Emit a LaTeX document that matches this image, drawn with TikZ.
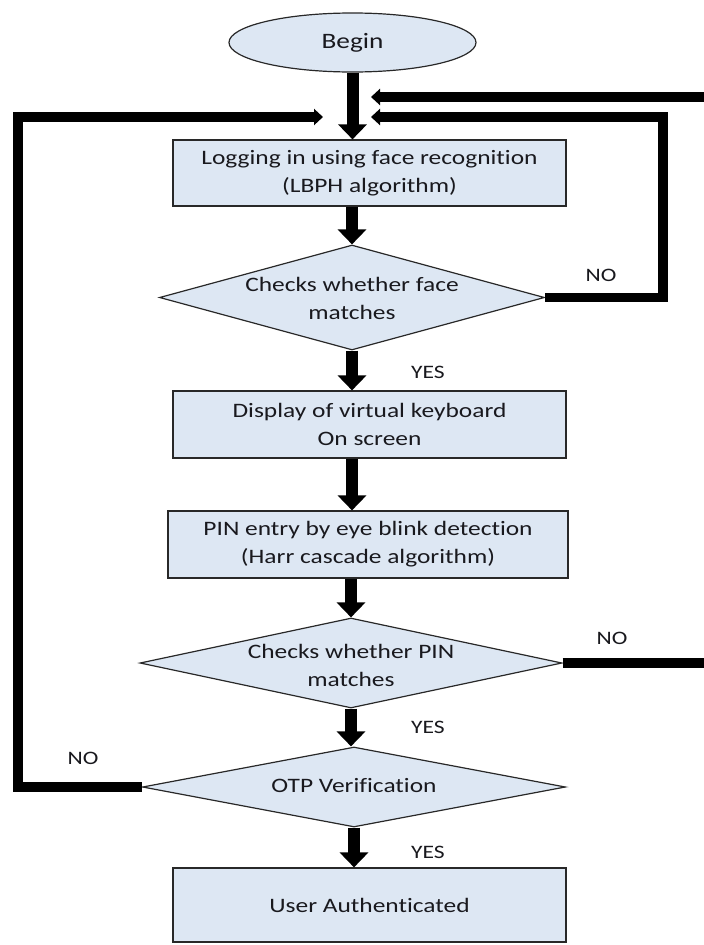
\documentclass[tikz,border=0pt]{standalone}
\usepackage{fontspec}
\setmainfont{Carlito}[FakeStretch=1.24,Ligatures=NoCommon]
\usetikzlibrary{arrows.meta,shapes.geometric}
\definecolor{boxfill}{RGB}{221,231,243}
\definecolor{txt}{RGB}{25,25,30}
\definecolor{edge}{RGB}{40,40,40}
\newcommand{\dtext}[2]{\raisebox{#1}[0pt][0pt]{\makebox[0pt]{\begin{tabular}{@{}c@{}}#2\end{tabular}}}}
\tikzset{
  procbox/.style={draw=edge, line width=1.2pt, fill=boxfill, rectangle, align=center,
    inner sep=3pt, text=txt, font=\fontsize{20.5}{28}\selectfont},
  decision/.style={draw=edge, line width=1.2pt, fill=boxfill, diamond, inner sep=0pt,
    text=txt, font=\fontsize{20.5}{28}\selectfont},
  startnode/.style={draw=edge, line width=1.2pt, fill=boxfill, ellipse, inner sep=0pt,
    text=txt, font=\fontsize{22}{28}\selectfont},
  lbl/.style={text=txt, font=\fontsize{19}{24}\selectfont, inner sep=0pt},
  flow/.style={draw=black, line width=12pt, -{Triangle[length=15pt,width=28pt]}},
  back/.style={draw=black, line width=9.5pt, -{Triangle[length=9pt,width=16pt]}},
}
\begin{document}
\begin{tikzpicture}[x=1pt,y=-1pt]
\useasboundingbox (0,0) rectangle (704,945);
\clip (0,0) rectangle (704,945);
\fill[white] (0,0) rectangle (704,945);

\node[startnode, minimum width=247pt, minimum height=59pt] (begin) at (352.5,42.5) {Begin};

\node[procbox, minimum width=393pt, minimum height=66pt] (b1) at (369.5,173)
  {Logging in using face recognition\\(LBPH algorithm)};
\node[decision, minimum width=385pt, minimum height=105pt] (d1) at (352,297.5)
  {\dtext{-8pt}{Checks whether face\\matches}};
\node[procbox, minimum width=393pt, minimum height=67pt] (b2) at (369.5,424.5)
  {Display of virtual keyboard\\On screen};
\node[procbox, minimum width=400pt, minimum height=67pt] (b3) at (368,544.5)
  {PIN entry by eye blink detection\\(Harr cascade algorithm)};
\node[decision, minimum width=422pt, minimum height=90pt] (d2) at (351,663)
  {\dtext{-9pt}{Checks whether PIN\\matches}};
\node[decision, minimum width=423pt, minimum height=80pt] (d3) at (354,787)
  {\dtext{-5pt}{OTP Verification}};
\node[procbox, minimum width=393pt, minimum height=74pt] (b4) at (369.5,905)
  {User Authenticated};

% main flow
\draw[flow] (begin.south) -- (begin.south |- b1.north);
\draw[flow] (d1.north |- b1.south) -- (d1.north);
\draw[flow] (d1.south) -- (d1.south |- b2.north);
\draw[flow] (d1.south |- b2.south) -- (d1.south |- b3.north);
\draw[flow] (d2.north |- b3.south) -- (d2.north);
\draw[flow] (d2.south) -- (d2.south |- d3.north);
\draw[flow] (d3.south) -- (d3.south |- b4.north);

% feedback loops
\coordinate (r1) at (663,117);
\coordinate (t1) at (371,117);
\coordinate (r2) at (725,97);
\coordinate (t2) at (371,97);
\coordinate (l3) at (18,117);
\coordinate (t3) at (323,117);
\draw[back] (d1.east) -| (r1) -- (t1);
\draw[back] (d2.east) -| (r2) -- (t2);
\draw[back] (d3.west) -| (l3) -- (t3);

% labels
\node[lbl] (no1) at (601,275) {NO};
\node[lbl] (yes1) at (428,372) {YES};
\node[lbl] (no2) at (612,638) {NO};
\node[lbl] (yes2) at (428,727) {YES};
\node[lbl] (no3) at (83,758) {NO};
\node[lbl] (yes3) at (428,852) {YES};
\end{tikzpicture}
\end{document}
